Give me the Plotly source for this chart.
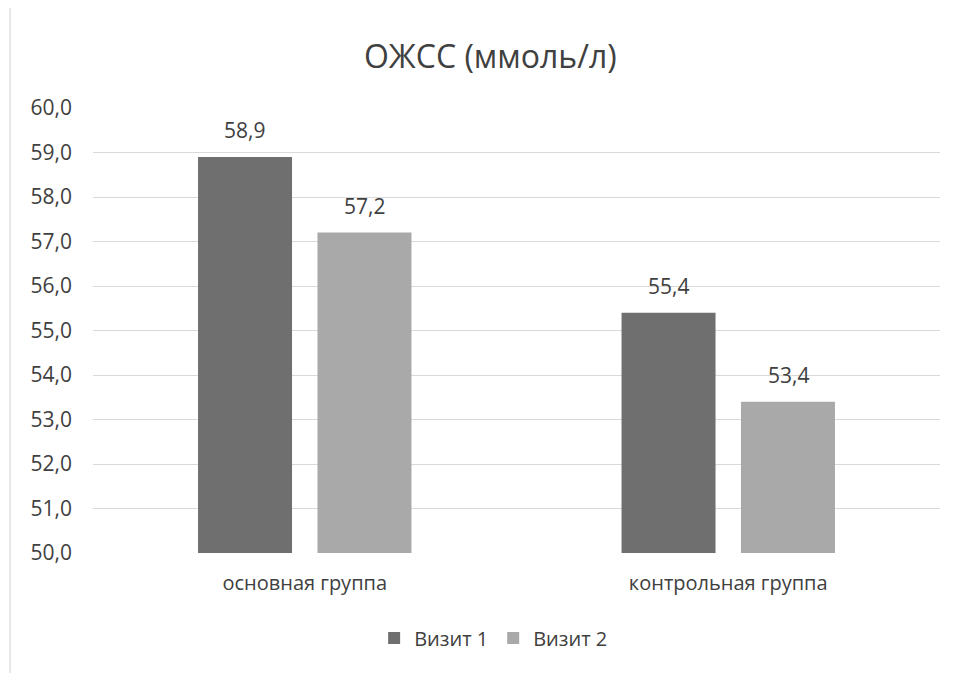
import plotly.graph_objects as go

categories = ["основная группа", "контрольная группа"]
visit1 = [58.9, 55.4]
visit2 = [57.2, 53.4]
series_names = ["Визит 1", "Визит 2"]
tick_vals = [50, 51, 52, 53, 54, 55, 56, 57, 58, 59, 60]
tick_text = ["50,0", "51,0", "52,0", "53,0", "54,0", "55,0", "56,0", "57,0", "58,0", "59,0", "60,0"]

def fmt(v):
    return f"{v:.1f}".replace(".", ",")

font_family = "Open Sans, Liberation Sans, sans-serif"
text_color = "#404040"
colors = ["#6f6f6f", "#a9a9a9"]

fig = go.Figure()
for name, vals, col in zip(series_names, [visit1, visit2], colors):
    fig.add_trace(go.Bar(
        x=categories, y=vals, name=name,
        marker=dict(color=col, line=dict(width=0)),
    ))

annotations = []
for vals, xs in [(visit1, -60), (visit2, 60)]:
    for c, v in zip(categories, vals):
        annotations.append(dict(
            x=c, y=v, xref="x", yref="y", text=fmt(v), showarrow=False,
            xshift=xs, yshift=11, yanchor="bottom", xanchor="center",
            font=dict(size=21, color=text_color, family=font_family),
        ))

fig.update_layout(
    width=957, height=673,
    paper_bgcolor="white", plot_bgcolor="white",
    margin=dict(l=85, r=25, t=100, b=128),
    barmode="group", bargap=0.436, bargroupgap=0.213,
    font=dict(family=font_family, color=text_color, size=20),
    title=dict(text="ОЖСС (ммоль/л)", x=0.504, xref="container", xanchor="center",
               y=0.927, yanchor="middle",
               font=dict(size=32, color=text_color, family=font_family)),
    legend=dict(orientation="h", x=0.473, xanchor="center", y=-0.191, yanchor="middle",
                font=dict(size=20, color=text_color), itemwidth=30, traceorder="normal"),
    xaxis=dict(showgrid=False, showline=False, ticks="", ticklabelstandoff=16,
               tickfont=dict(size=20, color=text_color)),
    yaxis=dict(range=[50, 60], tickvals=tick_vals, ticktext=tick_text,
               showgrid=True, gridcolor="#d9d9d9", gridwidth=1, zeroline=False,
               showline=False, ticks="", ticklabelstandoff=20,
               tickfont=dict(size=21, color=text_color)),
    annotations=annotations,
    shapes=[dict(type="line", xref="paper", yref="paper", x0=-0.098, x1=-0.098,
                 y0=-0.29, y1=1.23, line=dict(color="#d0d0d0", width=1))],
)

fig.write_html("out.html")
